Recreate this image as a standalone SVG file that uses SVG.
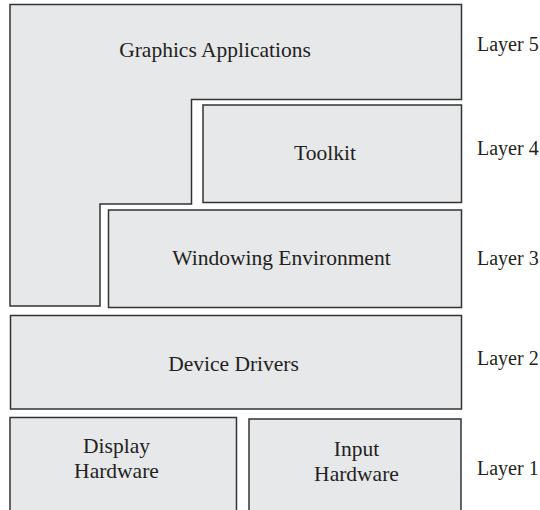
<svg xmlns="http://www.w3.org/2000/svg" width="540" height="510" viewBox="0 0 540 510">
  <style>
    .box { fill: #e7e8e9; stroke: #333333; stroke-width: 1.5; }
    .t { font-family: "Liberation Serif", "Times New Roman", serif; font-size: 21.5px; fill: #231f20; text-anchor: middle; }
    .lbl { font-family: "Liberation Serif", "Times New Roman", serif; font-size: 20px; fill: #231f20; }
  </style>
  <rect width="540" height="510" fill="#ffffff"/>
  <g id="graphics-applications">
    <path class="box" d="M10,4.5 H461.5 V99.5 H191.5 V204 H100 V306 H10 Z"/>
    <text class="t" x="215" y="56.5">Graphics Applications</text>
  </g>
  <g id="toolkit">
    <rect class="box" x="203" y="105" width="258.5" height="97.5"/>
    <text class="t" x="325" y="160">Toolkit</text>
  </g>
  <g id="windowing-environment">
    <rect class="box" x="108.5" y="210" width="353" height="97.5"/>
    <text class="t" x="281.5" y="264.5">Windowing Environment</text>
  </g>
  <g id="device-drivers">
    <rect class="box" x="10.5" y="315.5" width="451" height="93.5"/>
    <text class="t" x="233.5" y="371">Device Drivers</text>
  </g>
  <g id="display-hardware">
    <rect class="box" x="10" y="417.5" width="226.5" height="100"/>
    <text class="t" x="116.5" y="453">Display</text>
    <text class="t" x="116.5" y="478">Hardware</text>
  </g>
  <g id="input-hardware">
    <rect class="box" x="249" y="419" width="212" height="100"/>
    <text class="t" x="356.5" y="455.5">Input</text>
    <text class="t" x="356.5" y="480.5">Hardware</text>
  </g>
  <g id="connectors"></g>
  <g id="layer-labels">
    <text class="lbl" x="477" y="50.5">Layer 5</text>
    <text class="lbl" x="477" y="154.5">Layer 4</text>
    <text class="lbl" x="477" y="264.5">Layer 3</text>
    <text class="lbl" x="477" y="365">Layer 2</text>
    <text class="lbl" x="477" y="475">Layer 1</text>
  </g>
</svg>
